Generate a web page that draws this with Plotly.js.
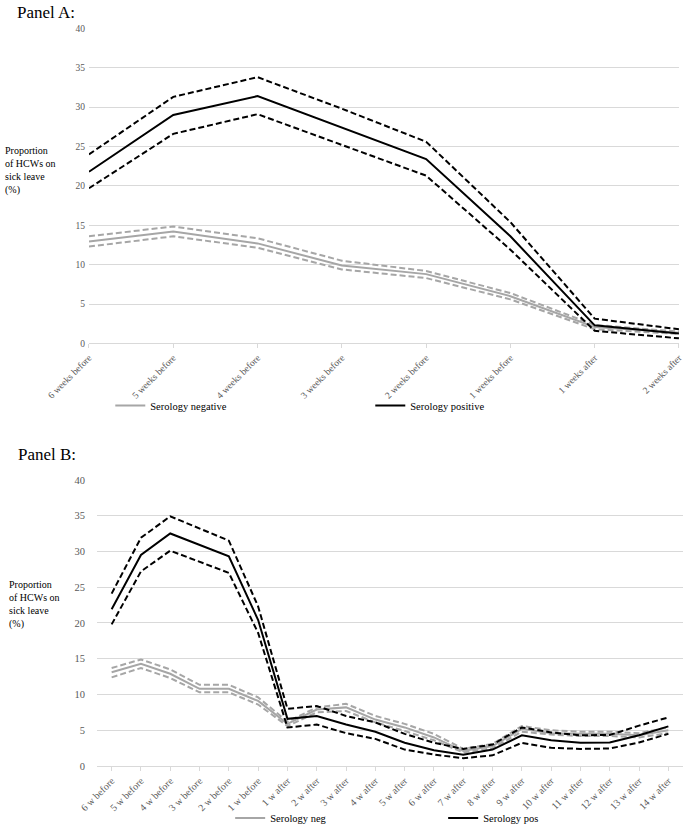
<!DOCTYPE html>
<html>
<head>
<meta charset="utf-8">
<script src="https://cdn.plot.ly/plotly-3.0.1.min.js"></script>
<style>
  body { margin: 0; background: #fff; }
  #chart { width: 685px; height: 833px; }
</style>
</head>
<body>
<div id="chart"></div>
<script>
// Panel A - weekly, 6 weeks before to 2 weeks after
var catsA = ['6 weeks before', '5 weeks before', '4 weeks before', '3 weeks before',
             '2 weeks before', '1 weeks before', '1 weeks after', '2 weeks after'];
var negA   = [12.95, 14.2, 12.7, 9.9, 8.8, 6.0, 2.1, 1.35];
var negAhi = [13.6, 14.85, 13.35, 10.5, 9.2, 6.4, 2.35, 1.5];
var negAlo = [12.3, 13.6, 12.15, 9.4, 8.3, 5.6, 1.8, 1.2];
var posA   = [21.8, 29.0, 31.4, 27.4, 23.4, 13.6, 2.3, 1.25];
var posAhi = [24.0, 31.3, 33.8, 29.8, 25.6, 15.4, 3.15, 1.8];
var posAlo = [19.7, 26.6, 29.1, 25.2, 21.3, 11.9, 1.6, 0.65];

// Panel B - 6 w before to 14 w after
var catsB = ['6 w before', '5 w before', '4 w before', '3 w before', '2 w before', '1 w before',
             '1 w after', '2 w after', '3 w after', '4 w after', '5 w after', '6 w after', '7 w after',
             '8 w after', '9 w after', '10 w after', '11 w after', '12 w after', '13 w after', '14 w after'];
var negB   = [13.1, 14.3, 12.9, 10.8, 10.8, 9.1, 5.9, 7.9, 8.2, 6.5, 5.4, 4.0, 2.1, 2.8, 5.2, 4.6, 4.5, 4.5, 4.3, 5.0];
var negBhi = [13.7, 14.9, 13.5, 11.35, 11.35, 9.6, 6.2, 8.2, 8.7, 7.0, 5.9, 4.5, 2.4, 3.1, 5.6, 5.0, 4.8, 4.8, 4.6, 5.4];
var negBlo = [12.4, 13.7, 12.3, 10.3, 10.3, 8.6, 5.6, 7.5, 7.7, 6.1, 4.9, 3.6, 1.9, 2.5, 4.8, 4.4, 4.2, 4.2, 4.0, 4.6];
var posB   = [21.9, 29.5, 32.5, 30.9, 29.3, 20.4, 6.6, 7.0, 5.8, 4.8, 3.25, 2.2, 1.6, 2.3, 4.3, 3.6, 3.25, 3.3, 4.3, 5.55];
var posBhi = [24.1, 31.9, 34.9, 33.2, 31.5, 22.3, 8.0, 8.4, 7.0, 6.1, 4.5, 3.25, 2.4, 3.0, 5.4, 4.7, 4.3, 4.35, 5.65, 6.8];
var posBlo = [19.8, 27.2, 30.1, 28.6, 27.0, 18.6, 5.4, 5.8, 4.6, 3.8, 2.3, 1.6, 1.1, 1.5, 3.25, 2.55, 2.4, 2.45, 3.3, 4.5];

var serif = '"Liberation Serif", "Times New Roman", serif';
var grey = '#a6a6a6';
var black = '#000000';

// one series = solid estimate + two dashed limits
function series(cats, mid, hi, lo, name, color, xa, ya, legend) {
  var base = {x: cats, type: 'scatter', mode: 'lines', xaxis: xa, yaxis: ya, hoverinfo: 'skip'};
  var dashed = {color: color, width: 2, dash: '6px,3px'};
  return [
    Object.assign({}, base, {y: hi, line: dashed, showlegend: false}),
    Object.assign({}, base, {y: lo, line: dashed, showlegend: false}),
    Object.assign({}, base, {y: mid, name: name, line: {color: color, width: 2}, legend: legend})
  ];
}

var data = [].concat(
  series(catsA, negA, negAhi, negAlo, 'Serology negative', grey, 'x', 'y', 'legend'),
  series(catsA, posA, posAhi, posAlo, 'Serology positive', black, 'x', 'y', 'legend'),
  series(catsB, negB, negBhi, negBlo, 'Serology neg', grey, 'x2', 'y2', 'legend2'),
  series(catsB, posB, posBhi, posBlo, 'Serology pos', black, 'x2', 'y2', 'legend2')
);

function yax(domain, size) {
  return {
    domain: domain, range: [0, 40], dtick: 5, fixedrange: true,
    showgrid: true, gridcolor: '#d9d9d9', gridwidth: 1,
    zeroline: false, showline: false, ticks: '',
    ticklabelstandoff: 3,
    tickfont: {family: serif, size: size, color: '#595959'}
  };
}

function xax(domain, range, anchor, size) {
  return {
    domain: domain, range: range, anchor: anchor, type: 'category',
    showgrid: false, zeroline: false,
    showline: true, linecolor: '#d9d9d9', linewidth: 1,
    ticks: 'outside', ticklen: 4, tickcolor: '#d9d9d9',
    tickangle: -45,
    tickfont: {family: serif, size: size, color: '#595959'}
  };
}

var layout = {
  width: 685, height: 833,
  margin: {l: 0, r: 0, t: 0, b: 0},
  paper_bgcolor: '#fff', plot_bgcolor: '#fff',
  font: {family: serif, color: '#000'},
  xaxis: xax([0.1299, 0.9912], [0, 7], 'y', 9.5),
  yaxis: yax([0.5852, 0.9658], 9.5),
  xaxis2: xax([0.1416, 0.9971], [-0.5, 19.5], 'y2', 10),
  yaxis2: yax([0.0748, 0.4205], 10.5),
  legend: {
    orientation: 'h', x: 0.161, y: 1 - 408 / 833, xanchor: 'left', yanchor: 'middle',
    entrywidth: 215, font: {family: serif, size: 10.5, color: '#000'},
    bgcolor: 'rgba(0,0,0,0)', itemwidth: 30
  },
  legend2: {
    orientation: 'h', x: 0.336, y: 1 - 823 / 833, xanchor: 'left', yanchor: 'middle',
    entrywidth: 168, font: {family: serif, size: 10.5, color: '#000'},
    bgcolor: 'rgba(0,0,0,0)', itemwidth: 30
  },
  annotations: [
    {text: 'Panel A:', xref: 'paper', yref: 'paper', x: 15 / 685, y: 1 - 13 / 833,
     xanchor: 'left', yanchor: 'middle', showarrow: false, font: {family: serif, size: 17}},
    {text: 'Panel B:', xref: 'paper', yref: 'paper', x: 16 / 685, y: 1 - 457 / 833,
     xanchor: 'left', yanchor: 'middle', showarrow: false, font: {family: serif, size: 17}},
    {text: 'Proportion<br>of HCWs on<br>sick leave<br>(%)', xref: 'paper', yref: 'paper',
     x: 3 / 685, y: 1 - 172 / 833, xanchor: 'left', yanchor: 'middle', align: 'left',
     showarrow: false, font: {family: serif, size: 10}},
    {text: 'Proportion<br>of HCWs on<br>sick leave<br>(%)', xref: 'paper', yref: 'paper',
     x: 7 / 685, y: 1 - 608 / 833, xanchor: 'left', yanchor: 'middle', align: 'left',
     showarrow: false, font: {family: serif, size: 10}}
  ]
};

Plotly.newPlot('chart', data, layout, {displayModeBar: false, staticPlot: true});
</script>
</body>
</html>
